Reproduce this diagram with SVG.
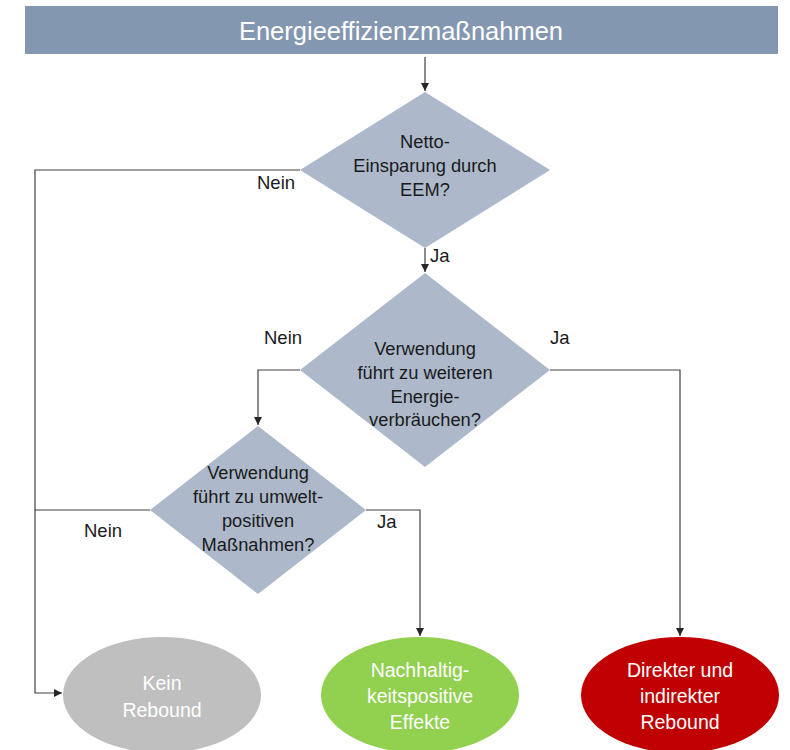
<svg xmlns="http://www.w3.org/2000/svg" width="790" height="750" viewBox="0 0 790 750">
<defs>
<marker id="ah" viewBox="0 0 10 10" refX="10" refY="5" markerWidth="8" markerHeight="8" markerUnits="userSpaceOnUse" orient="auto">
<path d="M0,0 L10,5 L0,10 z" fill="#262626"/>
</marker>
<style>
.dia{fill:#ADB9CA;}
.t{font-family:"Liberation Sans",Arial,sans-serif;font-size:18.3px;fill:#1a1a1a;text-anchor:middle;}
.lbl{font-family:"Liberation Sans",Arial,sans-serif;font-size:18.5px;fill:#1a1a1a;}
.w{font-family:"Liberation Sans",Arial,sans-serif;font-size:19.5px;fill:#ffffff;text-anchor:middle;}
.c{fill:none;stroke:#404040;stroke-width:1.2;}
</style>
</defs>
<rect width="790" height="750" fill="#ffffff"/>
<g id="header">
<rect x="25" y="6" width="753" height="48" fill="#8497B0"/>
<text x="401" y="40" font-family="Liberation Sans,Arial,sans-serif" font-size="25.5" fill="#ffffff" text-anchor="middle">Energieeffizienzmaßnahmen</text>
</g>
<g id="d1">
<polygon class="dia" points="425,92 550,170 425,248 300,170"/>
<text class="t" x="425" y="148">Netto-</text>
<text class="t" x="425" y="172">Einsparung durch</text>
<text class="t" x="425" y="196">EEM?</text>
</g>
<g id="d2">
<polygon class="dia" points="425,273 550,370 425,467 300,370"/>
<text class="t" x="425" y="355">Verwendung</text>
<text class="t" x="425" y="379">führt zu weiteren</text>
<text class="t" x="425" y="403">Energie-</text>
<text class="t" x="425" y="426">verbräuchen?</text>
</g>
<g id="d3">
<polygon class="dia" points="258,426 366,510 258,594 150,510"/>
<text class="t" x="258" y="479">Verwendung</text>
<text class="t" x="258" y="503">führt zu umwelt-</text>
<text class="t" x="258" y="527">positiven</text>
<text class="t" x="258" y="551">Maßnahmen?</text>
</g>
<g id="e1">
<ellipse cx="162" cy="695" rx="99" ry="58" fill="#BFBFBF"/>
<text class="w" x="162" y="690">Kein</text>
<text class="w" x="162" y="717">Rebound</text>
</g>
<g id="e2">
<ellipse cx="420" cy="695" rx="99" ry="58" fill="#92D050"/>
<text class="w" x="420" y="677">Nachhaltig-</text>
<text class="w" x="420" y="703">keitspositive</text>
<text class="w" x="420" y="729">Effekte</text>
</g>
<g id="e3">
<ellipse cx="680" cy="695" rx="99" ry="58" fill="#C00000"/>
<text class="w" x="680" y="677">Direkter und</text>
<text class="w" x="680" y="703">indirekter</text>
<text class="w" x="680" y="729">Rebound</text>
</g>
<g id="connectors">
<path class="c" d="M425,57 V91" marker-end="url(#ah)"/>
<path class="c" d="M425,248 V272" marker-end="url(#ah)"/>
<path class="c" d="M300,170 H35 V693 H62" marker-end="url(#ah)"/>
<path class="c" d="M300,370 H258 V425" marker-end="url(#ah)"/>
<path class="c" d="M550,370 H680 V636" marker-end="url(#ah)"/>
<path class="c" d="M150,510 H35"/>
<path class="c" d="M366,510 H420 V636" marker-end="url(#ah)"/>
</g>
<g id="labels">
<text class="lbl" x="257" y="189">Nein</text>
<text class="lbl" x="430" y="262">Ja</text>
<text class="lbl" x="264" y="344">Nein</text>
<text class="lbl" x="550" y="344">Ja</text>
<text class="lbl" x="84" y="537">Nein</text>
<text class="lbl" x="377" y="528">Ja</text>
</g>
</svg>
